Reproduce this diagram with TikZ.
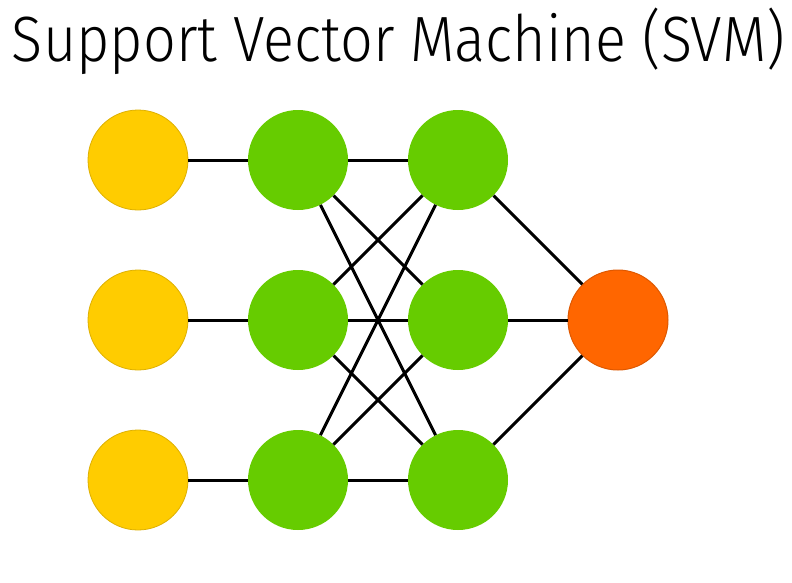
\documentclass[tikz,border=0pt]{standalone}
\usepackage{fontspec}
\setmainfont{Fira Sans}
\newfontfamily\titlefont{Fira Sans Light}
\definecolor{inyellow}{RGB}{255,204,0}
\definecolor{inyellowdark}{RGB}{222,176,0}
\definecolor{hidgreen}{RGB}{102,204,0}
\definecolor{outorange}{RGB}{255,102,0}
\definecolor{outorangedark}{RGB}{222,88,0}

\begin{document}
\begin{tikzpicture}[
  x=1pt,y=-1pt,
  neuron/.style={circle,minimum size=100pt,inner sep=0pt},
  inneuron/.style={neuron,fill=inyellow,draw=inyellowdark,line width=0.8pt},
  hidneuron/.style={neuron,fill=hidgreen},
  outneuron/.style={neuron,fill=outorange,draw=outorangedark,line width=1pt},
  link/.style={line width=3pt,black},
]
  \useasboundingbox (0,0) rectangle (792,582);
  \node[anchor=base,inner sep=0pt] (title) at (398.5,61)
    {\resizebox{773pt}{\height}{\titlefont\fontsize{64}{70}\selectfont Support Vector Machine (SVM)}};
  \foreach \i in {1,2,3}{
    \node[inneuron] (in\i) at (138,{160*\i}) {};
    \node[hidneuron] (hA\i) at (298,{160*\i}) {};
    \node[hidneuron] (hB\i) at (458,{160*\i}) {};
  }
  \node[outneuron] (out) at (618,320) {};
  \foreach \i in {1,2,3}{
    \draw[link] (in\i) -- (hA\i);
    \draw[link] (hB\i) -- (out);
    \foreach \j in {1,2,3}
      \draw[link] (hA\i) -- (hB\j);
  }
\end{tikzpicture}
\end{document}
